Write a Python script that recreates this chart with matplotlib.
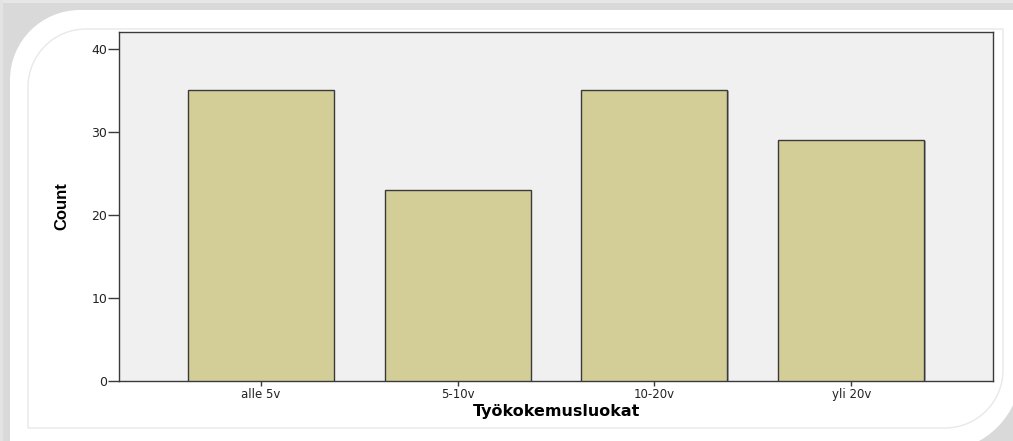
import matplotlib
matplotlib.use("Agg")
import matplotlib.pyplot as plt
from matplotlib.path import Path
from matplotlib.patches import PathPatch, Rectangle
from matplotlib.transforms import Affine2D
import matplotlib.patheffects as pe
import numpy as np

categories = ["alle 5v", "5-10v", "10-20v", "yli 20v"]
counts = [35, 23, 35, 29]
yticks = [0, 10, 20, 30, 40]
xlabel = "Työkokemusluokat"
ylabel = "Count"

W, H = 1013, 441
fig = plt.figure(figsize=(W / 100, H / 100), dpi=100)
fig.patch.set_facecolor("white")

# pixel transform (image coords, y down)
pix = Affine2D().scale(1 / W, -1 / H).translate(0, 1) + fig.transFigure

def rounded_path(x0, y0, x1, y1, r_tl, r_br):
    k = 0.5523
    verts = [
        (x0, y0 + r_tl),
        (x0, y0 + r_tl - k * r_tl), (x0 + r_tl - k * r_tl, y0), (x0 + r_tl, y0),
        (x1, y0),
        (x1, y1 - r_br),
        (x1, y1 - r_br + k * r_br), (x1 - r_br + k * r_br, y1), (x1 - r_br, y1),
        (x0, y1),
        (x0, y0 + r_tl),
    ]
    codes = [Path.MOVETO, Path.CURVE4, Path.CURVE4, Path.CURVE4, Path.LINETO,
             Path.LINETO, Path.CURVE4, Path.CURVE4, Path.CURVE4, Path.LINETO,
             Path.CLOSEPOLY]
    return Path(verts, codes)

# gray background shadow
fig.patches.append(Rectangle((0, 0), W, H, transform=pix, facecolor="#d9d9d9",
                             edgecolor="none", zorder=-10))
fig.patches.append(Rectangle((0, 0), W, 3, transform=pix, facecolor="#e6e6e6",
                             edgecolor="none", zorder=-9))
fig.patches.append(Rectangle((0, 0), 3, H, transform=pix, facecolor="#e3e3e3",
                             edgecolor="none", zorder=-9))
# white panel
fig.patches.append(PathPatch(rounded_path(10, 10, 1021, 451, 70, 81), transform=pix,
                             facecolor="white", edgecolor="none", zorder=-8))
# inner thin border
fig.patches.append(PathPatch(rounded_path(28, 29, 1003, 428, 58, 58), transform=pix,
                             facecolor="none", edgecolor="#e8e8e8", lw=1.0, zorder=-7))

ax = fig.add_axes([119 / W, 1 - 381 / H, (993 - 119) / W, (381 - 32) / H])
ax.set_facecolor("#f0f0f0")

x = np.arange(len(categories))
bars = ax.bar(x, counts, width=0.742, color="#d3ce98", edgecolor="#3a3a3a",
              linewidth=1.0, zorder=3)
for b in bars:
    b.set_path_effects([pe.SimplePatchShadow(offset=(1.2, -0.6), shadow_rgbFace="#9a9a9a",
                                             alpha=0.8), pe.Normal()])

ax.set_xlim(-0.72, 3.72)
ax.set_ylim(0, 42)
ax.set_yticks(yticks)
ax.set_xticks(x)
ax.set_xticklabels(categories)

for s in ax.spines.values():
    s.set_color("#3a3a3a")
    s.set_linewidth(1.0)

ax.tick_params(axis="y", length=8, width=1, color="#3a3a3a", pad=0.5,
               labelsize=9, labelcolor="#222222")
ax.tick_params(axis="x", length=3.8, width=1, color="#3a3a3a", pad=1.2,
               labelsize=8.5, labelcolor="#222222")

ax.set_xlabel(xlabel, fontsize=11.5, fontweight="bold", family="DejaVu Sans")
ax.xaxis.label.set_va("center")
ax.xaxis.set_label_coords(0.501, -0.086)

ax.set_ylabel(ylabel, fontsize=12, fontweight="bold",
              family=["Liberation Sans", "DejaVu Sans"])
ax.yaxis.label.set_va("center")
ax.yaxis.set_label_coords(-0.065, 0.5)

fig.savefig("out.png", dpi=100, facecolor=fig.get_facecolor())
